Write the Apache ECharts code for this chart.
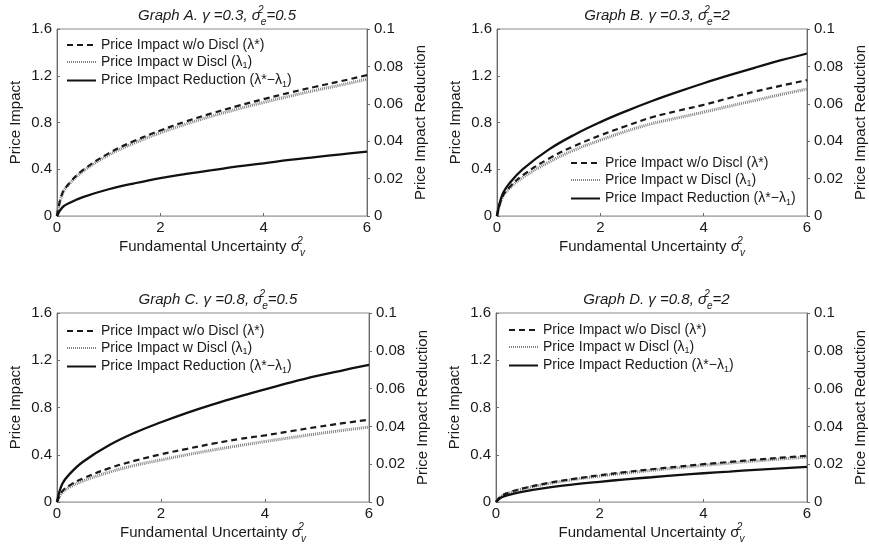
<!DOCTYPE html>
<html>
<head>
<meta charset="utf-8">
<script src="https://cdn.jsdelivr.net/npm/echarts@6/dist/echarts.min.js"></script>
<style>
  html, body { margin: 0; padding: 0; background: #fff; }
  #chart { width: 869px; height: 547px; }
</style>
</head>
<body>
<div id="chart"></div>
<script>
// Fundamental uncertainty (sigma_v^2) sample points
const xVals = [0, 0.1, 0.25, 0.5, 1, 1.5, 2, 2.5, 3, 3.5, 4, 4.5, 5, 5.5, 6];

// Graph A: gamma = 0.3, sigma_e^2 = 0.5
const lamStarA = [0, 0.19, 0.287, 0.392, 0.536, 0.643, 0.732, 0.81, 0.879, 0.942, 1.0, 1.055, 1.106, 1.154, 1.205];
const lam1A    = [0, 0.186, 0.28, 0.382, 0.522, 0.625, 0.712, 0.787, 0.855, 0.915, 0.972, 1.025, 1.075, 1.121, 1.171];
const redA     = [0, 0.0045, 0.0071, 0.0101, 0.0143, 0.0175, 0.0203, 0.0225, 0.0245, 0.0265, 0.0282, 0.030, 0.0315, 0.033, 0.0344];

// Graph B: gamma = 0.3, sigma_e^2 = 2
const lamStarB = [0, 0.16, 0.25, 0.35, 0.49, 0.60, 0.69, 0.77, 0.845, 0.90, 0.951, 1.01, 1.065, 1.115, 1.163];
const lam1B    = [0, 0.155, 0.24, 0.33, 0.46, 0.565, 0.649, 0.725, 0.79, 0.84, 0.889, 0.94, 0.99, 1.04, 1.086];
const redB     = [0, 0.0112, 0.0178, 0.0251, 0.0355, 0.0435, 0.0502, 0.0561, 0.0615, 0.0664, 0.0710, 0.0753, 0.0794, 0.0833, 0.0869];

// Graph C: gamma = 0.8, sigma_e^2 = 0.5
const lamStarC = [0, 0.09, 0.143, 0.20, 0.285, 0.35, 0.404, 0.45, 0.494, 0.533, 0.564, 0.60, 0.635, 0.667, 0.697];
const lam1C    = [0, 0.08, 0.127, 0.178, 0.252, 0.31, 0.356, 0.40, 0.44, 0.477, 0.512, 0.545, 0.577, 0.607, 0.635];
const redC     = [0, 0.0095, 0.0150, 0.0213, 0.0300, 0.0367, 0.0422, 0.0472, 0.0517, 0.0558, 0.0596, 0.0633, 0.0667, 0.0697, 0.0726];

// Graph D: gamma = 0.8, sigma_e^2 = 2
const lamStarD = [0, 0.05, 0.08, 0.113, 0.16, 0.196, 0.226, 0.253, 0.277, 0.299, 0.32, 0.339, 0.358, 0.375, 0.392];
const lam1D    = [0, 0.048, 0.077, 0.109, 0.155, 0.19, 0.219, 0.245, 0.268, 0.29, 0.31, 0.329, 0.347, 0.364, 0.38];
const redD     = [0, 0.0024, 0.0038, 0.0054, 0.0076, 0.0093, 0.0107, 0.012, 0.0131, 0.0142, 0.0152, 0.0161, 0.017, 0.0178, 0.0186];

const panelTitles = [
  ['Graph A. γ =0.3, σ', '=0.5'],
  ['Graph B. γ =0.3, σ', '=2'],
  ['Graph C. γ =0.8, σ', '=0.5'],
  ['Graph D. γ =0.8, σ', '=2']
];
const seriesNames = ['Price Impact w/o Discl (λ*)', 'Price Impact w Discl (λ1)', 'Price Impact Reduction (λ*−λ1)'];
const panelData = [
  [lamStarA, lam1A, redA],
  [lamStarB, lam1B, redB],
  [lamStarC, lam1C, redC],
  [lamStarD, lam1D, redD]
];

// Layout of the four plot areas
const grids = [
  { left: 57, top: 29, width: 310, height: 187 },
  { left: 497, top: 29, width: 310, height: 187 },
  { left: 57, top: 313, width: 312, height: 189 },
  { left: 496, top: 313, width: 311, height: 189 }
];
const legendPos = [
  { left: 66, top: 38 },
  { left: 570, top: 156 },
  { left: 66, top: 324 },
  { left: 508, top: 323 }
];

const FONT = '"Liberation Sans", Arial, Helvetica, sans-serif';
const TXT = '#1a1a1a';

function scriptStyles(size) {
  return {
    t: { fontSize: size, fontFamily: FONT, color: TXT, lineHeight: 22, verticalAlign: 'middle', fontWeight: 'normal' },
    ti: { fontSize: size, fontFamily: FONT, color: TXT, lineHeight: 22, fontStyle: 'italic', verticalAlign: 'middle', fontWeight: 'normal' },
    supi: { fontSize: 10, fontFamily: FONT, color: TXT, lineHeight: 10, verticalAlign: 'top', width: 0, fontStyle: 'italic', fontWeight: 'normal' },
    subi: { fontSize: 10, fontFamily: FONT, color: TXT, lineHeight: 10, verticalAlign: 'bottom', fontStyle: 'italic', fontWeight: 'normal' }
  };
}

const option = {
  animation: false,
  backgroundColor: '#fff',
  title: [],
  legend: [],
  grid: [],
  xAxis: [],
  yAxis: [],
  series: []
};

const axisLineStyle = { color: '#6a6a6a', width: 1 };

grids.forEach((g, i) => {
  const cx = g.left + g.width / 2;
  option.grid.push({
    left: g.left, top: g.top, width: g.width, height: g.height,
    show: true, borderColor: '#8a8a8a', borderWidth: 1, containLabel: false
  });
  option.title.push({
    text: '{ti|' + panelTitles[i][0] + '}{supi|2}{subi|e}{ti|' + panelTitles[i][1] + '}',
    left: cx, top: g.top - 29, textAlign: 'center',
    textStyle: { fontWeight: 'normal', rich: scriptStyles(15) }
  });
  option.legend.push({
    data: seriesNames,
    orient: 'vertical',
    left: legendPos[i].left, top: legendPos[i].top,
    itemWidth: 29, itemHeight: 14, itemGap: 3,
    padding: 0,
    selectedMode: false,
    itemStyle: { opacity: 0, borderWidth: 0 },
    formatter: function (name) {
      return '{t|' + name.replace(/λ1/g, 'λ}{sub|1}{t|') + '}';
    },
    textStyle: {
      rich: {
        t: { fontSize: 14, fontFamily: FONT, color: TXT, lineHeight: 17, verticalAlign: 'middle' },
        sub: { fontSize: 9, fontFamily: FONT, color: TXT, lineHeight: 17, verticalAlign: 'bottom' }
      }
    }
  });
  option.xAxis.push({
    type: 'value', gridIndex: i, min: 0, max: 6, interval: 2,
    name: '{t|Fundamental Uncertainty σ}{supi|2}{subi|v}',
    nameLocation: 'middle', nameGap: 19,
    nameTextStyle: { rich: scriptStyles(15) },
    axisLine: { show: true, lineStyle: { color: '#b0b0b0' } },
    axisTick: { show: true, inside: true, length: 3, lineStyle: axisLineStyle },
    axisLabel: { fontSize: 15, fontFamily: FONT, color: TXT, margin: 4 },
    splitLine: { show: false }
  });
  option.yAxis.push({
    type: 'value', gridIndex: i, position: 'left', min: 0, max: 1.6, interval: 0.4,
    name: 'Price Impact', nameLocation: 'middle', nameGap: 34, nameRotate: 90,
    nameTextStyle: { fontSize: 15, fontFamily: FONT, color: TXT },
    axisLine: { show: true, lineStyle: axisLineStyle },
    axisTick: { show: true, inside: true, length: 3, lineStyle: axisLineStyle },
    axisLabel: { fontSize: 15, fontFamily: FONT, color: TXT, margin: 5 },
    splitLine: { show: false }
  });
  option.yAxis.push({
    type: 'value', gridIndex: i, position: 'right', min: 0, max: 0.1, interval: 0.02,
    name: 'Price Impact Reduction', nameLocation: 'middle', nameGap: 46, nameRotate: 90,
    nameTextStyle: { fontSize: 15, fontFamily: FONT, color: TXT },
    axisLine: { show: true, lineStyle: axisLineStyle },
    axisTick: { show: true, inside: false, length: 3, lineStyle: axisLineStyle },
    axisLabel: { fontSize: 15, fontFamily: FONT, color: TXT, margin: 7 },
    splitLine: { show: false }
  });

  const pairs = (ys) => xVals.map((x, k) => [x, ys[k]]);
  const [star, one, red] = panelData[i];
  // dotted curve first so the dashed curve sits on top of it
  option.series.push({
    name: seriesNames[1], type: 'line', xAxisIndex: i, yAxisIndex: 2 * i,
    data: pairs(one), smooth: 0.4, symbol: 'none', showSymbol: false,
    lineStyle: { color: '#808080', width: 3, type: [1, 1] },
    itemStyle: { color: '#808080' }, z: 2
  });
  option.series.push({
    name: seriesNames[0], type: 'line', xAxisIndex: i, yAxisIndex: 2 * i,
    data: pairs(star), smooth: 0.4, symbol: 'none', showSymbol: false,
    lineStyle: { color: '#1a1a1a', width: 2.2, type: [6, 4] },
    itemStyle: { color: '#1a1a1a' }, z: 3
  });
  option.series.push({
    name: seriesNames[2], type: 'line', xAxisIndex: i, yAxisIndex: 2 * i + 1,
    data: pairs(red), smooth: 0.4, symbol: 'none', showSymbol: false,
    lineStyle: { color: '#111', width: 2.3, type: 'solid' },
    itemStyle: { color: '#111' }, z: 4
  });
});

const chart = echarts.init(document.getElementById('chart'), null, { renderer: 'canvas' });
chart.setOption(option);
</script>
</body>
</html>
